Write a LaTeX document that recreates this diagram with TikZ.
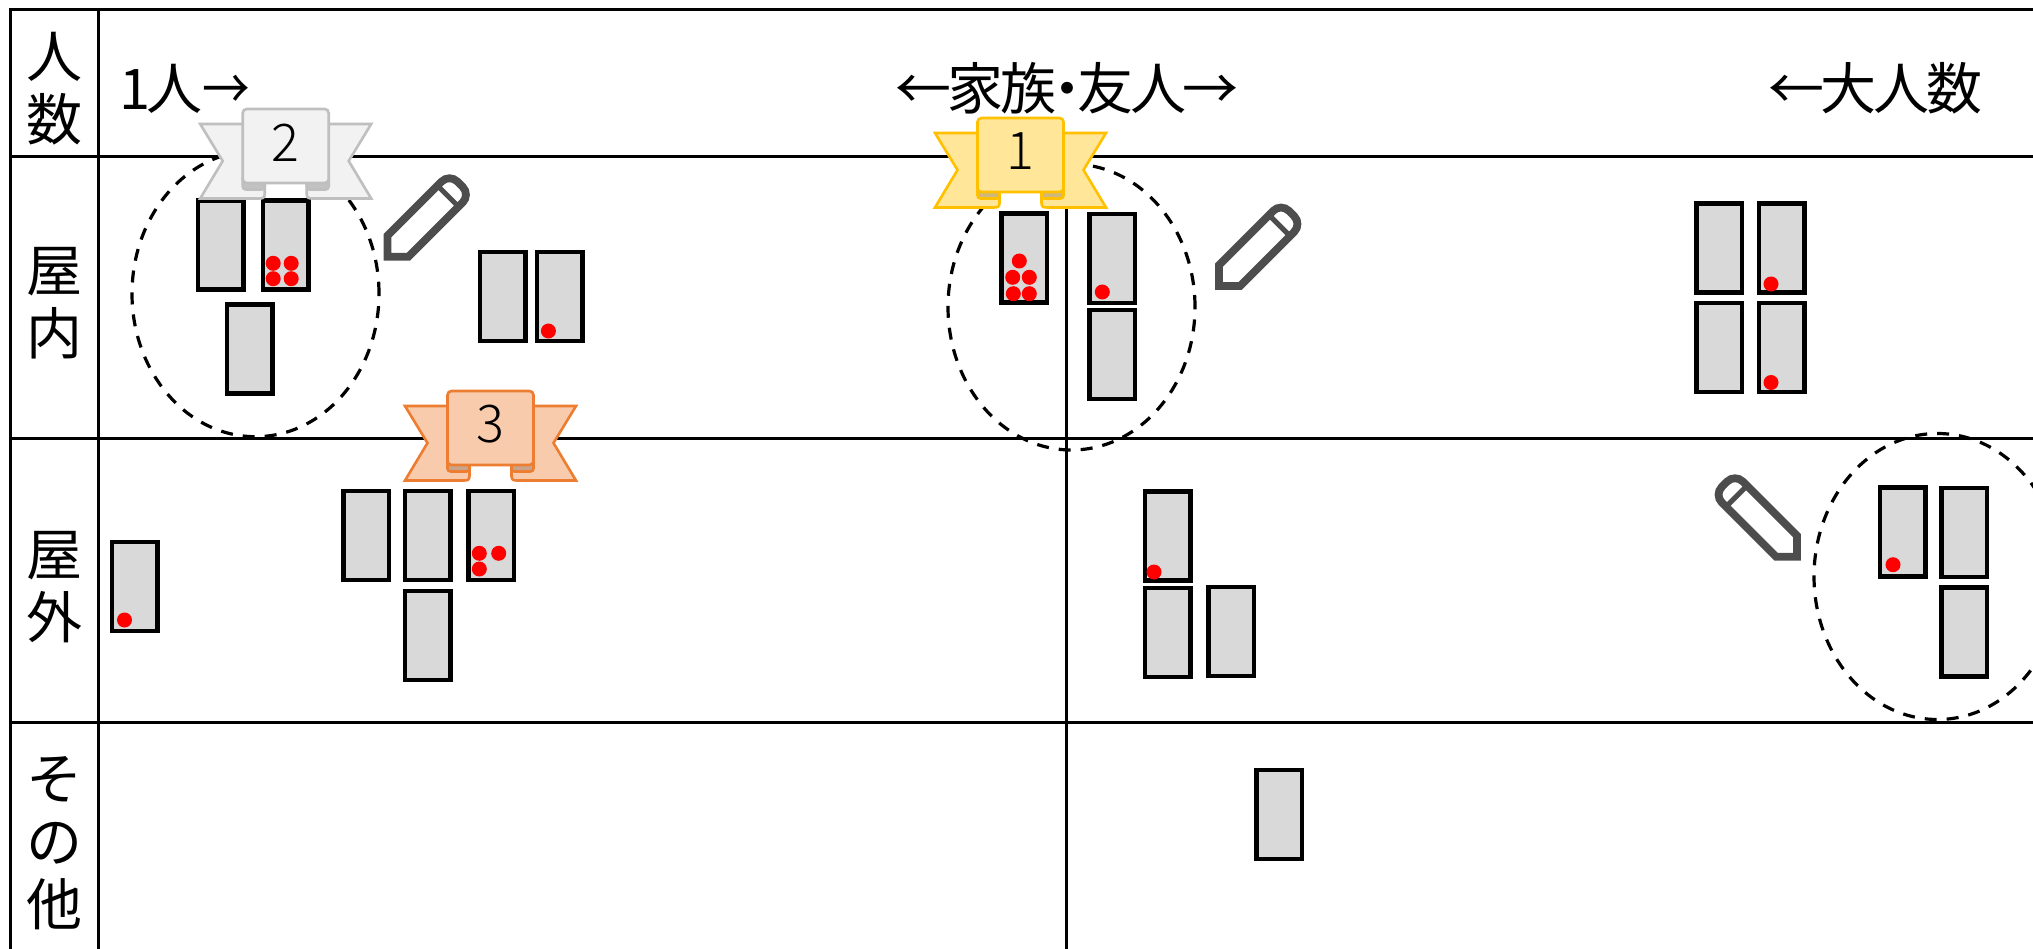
\documentclass[tikz,border=0pt]{standalone}
\usepackage{fontspec}
\usepackage{graphicx}
\setmainfont{Noto Sans CJK JP}
\newfontfamily\topfont[LetterSpace=-6]{Noto Sans CJK JP}
\newfontfamily\numfont{Noto Sans CJK JP Light}
\usetikzlibrary{shapes.geometric}
\definecolor{seatgray}{HTML}{D9D9D9}
\definecolor{pencilgray}{HTML}{4D4D4D}
\definecolor{goldS}{HTML}{FFC000}
\definecolor{goldF}{HTML}{FFE699}
\definecolor{goldD}{HTML}{CFB87C}
\definecolor{silvS}{HTML}{BFBFBF}
\definecolor{silvF}{HTML}{F2F2F2}
\definecolor{silvD}{HTML}{C2C2C2}
\definecolor{bronS}{HTML}{ED7D31}
\definecolor{bronF}{HTML}{F8CBAD}
\definecolor{bronD}{HTML}{C8A48C}
\tikzset{
  x=1pt,y=-1pt,
  gridline/.style={line width=3pt,black},
  seat/.style={draw=black,fill=seatgray,line width=4.5pt,rectangle,inner sep=0pt,outer sep=0pt,minimum width=45.5pt,minimum height=89pt},
  reddot/.style={circle,fill=red,draw=none,inner sep=0pt,minimum size=15pt},
  groupring/.style={draw=black,ellipse,line width=3.2pt,dash pattern=on 12pt off 10pt,inner sep=0pt,outer sep=0pt,minimum width=247pt,minimum height=286pt},
  headtext/.style={font=\fontsize{56}{63}\selectfont,inner sep=0pt,align=center,text=black},
  toptext/.style={font=\topfont\fontsize{56}{63}\selectfont,inner sep=0pt,text=black},
  numtext/.style={font=\numfont\fontsize{52}{60}\selectfont,inner sep=0pt,text=black},
  rib/.style={line width=2.6pt,line join=miter},
}
\newcommand{\ribbon}[7]{% name, cx, top, stroke, fill, strip, number
  \begin{scope}[shift={(#2,#3)}]
    \foreach \sgn in {-1,1}{
      \begin{scope}[xscale=\sgn]
        \draw[rib,draw=#4,fill=#5] (-85.5,15) -- (-21,15) -- (-21,85) .. controls (-21,89) and (-23,89.5) .. (-27,89.5) -- (-85.5,89.5) -- (-63,52) -- cycle;
        \draw[rib,draw=#4,fill=#6,rounded corners=3pt] (-43,66) -- (-43,80.5) -- (-21,80.5) -- (-21,66) -- cycle;
      \end{scope}
    }
    \draw[rib,draw=#4,fill=#5,rounded corners=4pt] (-43,0) rectangle (43,74);
    \node[numtext] (#1) at (0,33.5) {#7};
  \end{scope}
}
\newcommand{\pencil}[3]{% x, y, xscale
  \begin{scope}[shift={(#1,#2)},xscale=#3]
    \draw[draw=pencilgray,line width=7.8pt,line join=miter] (4,-4) [sharp corners] -- (4,-25) [rounded corners=11pt] -- (66,-87) -- (87,-66) [sharp corners] -- (25,-4) -- cycle;
    \draw[draw=pencilgray,line width=5pt] (54,-75) -- (75,-54);
  \end{scope}
}
\begin{document}
\begin{tikzpicture}
\useasboundingbox (0,0) rectangle (2033,949);
\fill[white] (0,0) rectangle (2033,949);
% grid
\draw[gridline] (2033,9.5) -- (10.5,9.5) -- (10.5,949);
\draw[gridline] (98.5,9.5) -- (98.5,949);
\draw[gridline] (10.5,157) -- (2033,157);
\draw[gridline] (10.5,438) -- (2033,438);
\draw[gridline] (10.5,722) -- (2033,722);
\draw[gridline] (1066.5,157) -- (1066.5,949);
% side labels
\node[headtext] (hN) at (54.7,89) {人\\数};
\node[headtext] (hI) at (54.7,303) {屋\\内};
\node[headtext] (hO) at (54.7,587.5) {屋\\外};
\node[headtext] (hS) at (54.7,843.5) {そ\\の\\他};
% top labels
\node[toptext,anchor=west] (t1) at (119,88.5) {1人\scalebox{.85}[1]{→}};
\node[toptext] (t2) at (1067,88.5) {←家族\kern-.31em・\kern-.31em友人→};
\node[toptext] (t3) at (1875,88.5) {←大人数};
% rings
\node[groupring] (g2) at (255.5,293.7) {};
\node[groupring] (g1) at (1071.5,307) {};
\node[groupring] (g3) at (1937.5,576.5) {};
% seats
\node[seat] (r1) at (220.8,245) {};
\node[seat] (r2) at (285.9,245) {};
\node[seat] (r3) at (249.9,349) {};
\node[seat] (r4) at (502.5,296.7) {};
\node[seat] (r5) at (559.5,296.7) {};
\node[seat] (r6) at (366,535.3) {};
\node[seat] (r7) at (427.5,535.3) {};
\node[seat] (r8) at (491.3,535.3) {};
\node[seat] (r9) at (427.5,635.5) {};
\node[seat] (r10) at (134.8,586.7) {};
\node[seat] (m1) at (1024,258) {};
\node[seat] (m2) at (1112,258.5) {};
\node[seat] (m3) at (1112,354.5) {};
\node[seat] (m4) at (1167.5,536) {};
\node[seat] (m5) at (1167.5,632.5) {};
\node[seat] (m6) at (1231,631.5) {};
\node[seat] (m7) at (1279,814.5) {};
\node[seat] (q1) at (1719.3,248) {};
\node[seat] (q2) at (1781.5,248) {};
\node[seat] (q3) at (1719.3,347.5) {};
\node[seat] (q4) at (1781.5,347.5) {};
\node[seat] (q5) at (1902.7,532) {};
\node[seat] (q6) at (1964,532.7) {};
\node[seat] (q7) at (1964,632) {};
% dots
\foreach \nm/\px/\py in {a1/273.2/263.3,a2/291.2/263.3,a3/273.2/278.7,a4/291.2/278.7,
  b1/548.4/331,
  c1/479.3/553.3,c2/498.7/553.3,c3/479.3/569,
  d1/124.5/620,
  e1/1019.3/261,e2/1012.7/277.3,e3/1029.3/277.3,e4/1013.3/293.7,e5/1029.3/293.7,
  f1/1102.3/292,
  h1/1154/572,
  i1/1771/284,i2/1771/382.5,
  j1/1893/564.7}{
  \node[reddot] (\nm) at (\px,\py) {};
}
% pencils
\pencil{383.5}{260.7}{1}
\pencil{1215}{290}{1}
\pencil{1801}{560.7}{-1}
% ribbons
\ribbon{n2}{285.7}{109}{silvS}{silvF}{silvD}{2}
\ribbon{n1}{1020.5}{118}{goldS}{goldF}{goldD}{1}
\ribbon{n3}{490.5}{391}{bronS}{bronF}{bronD}{3}
\end{tikzpicture}
\end{document}
